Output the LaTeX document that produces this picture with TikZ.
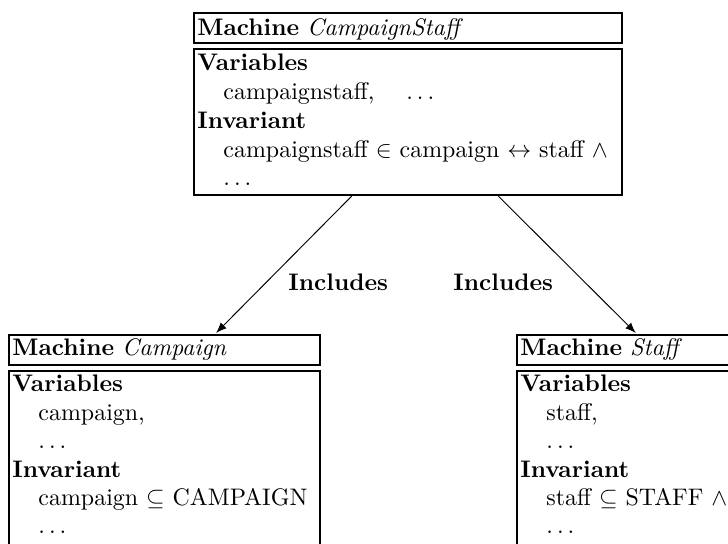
\documentclass[tikz,border=0pt]{standalone}
\usetikzlibrary{calc,fit,arrows.meta}
\begin{document}
\begin{tikzpicture}[x=0.418pt, y=-0.418pt,
  frame/.style={draw, line width=1pt, inner sep=0pt, fit={#1}},
  txt/.style={anchor=base west, inner sep=0pt, font=\normalsize},
  incl/.style={line width=0.4pt, -{Latex[length=4.4pt,width=3.4pt]}, shorten >=0.5pt}]
  \useasboundingbox (0,0) rectangle (728,543);
  \clip (0,0) rectangle (728,543);

  % machine CampaignStaff
  \node[frame={(194,13) (622,43)}] (csHead) {};
  \node[frame={(194,49) (622,195)}] (csBody) {};
  \node[txt] (csTitle) at (197,35) {\textbf{Machine} \textit{CampaignStaff}};
  \node[txt] (csVarH) at (197,70) {\textbf{Variables}};
  \node[txt] (csVar)  at (223,99) {campaignstaff,\quad\ $\ldots$};
  \node[txt] (csInvH) at (197,128) {\textbf{Invariant}};
  \node[txt] (csInv)  at (223,157) {campaignstaff $\in$ campaign $\leftrightarrow$ staff $\wedge$};
  \node[txt] (csEnd)  at (223,185) {$\ldots$};

  % machine Campaign
  \node[frame={(9,335) (320,365)}] (cHead) {};
  \node[frame={(9,371) (320,580)}] (cBody) {};
  \node[txt] (cTitle) at (12,355) {\textbf{Machine} \textit{Campaign}};
  \node[txt] (cVarH)  at (12,391) {\textbf{Variables}};
  \node[txt] (cVar)   at (38,420) {campaign,};
  \node[txt] (cVarE)  at (38,448) {$\ldots$};
  \node[txt] (cInvH)  at (12,477) {\textbf{Invariant}};
  \node[txt] (cInv)   at (38,505) {campaign $\subseteq$ CAMPAIGN};
  \node[txt] (cEnd)   at (38,533) {$\ldots$};

  % machine Staff
  \node[frame={(517,335) (830,365)}] (sHead) {};
  \node[frame={(517,371) (830,580)}] (sBody) {};
  \node[txt] (sTitle) at (520,355) {\textbf{Machine} \textit{Staff}};
  \node[txt] (sVarH)  at (520,391) {\textbf{Variables}};
  \node[txt] (sVar)   at (546,420) {staff,};
  \node[txt] (sVarE)  at (546,448) {$\ldots$};
  \node[txt] (sInvH)  at (520,477) {\textbf{Invariant}};
  \node[txt] (sInv)   at (546,505) {staff $\subseteq$ STAFF $\wedge$};
  \node[txt] (sEnd)   at (546,533) {$\ldots$};

  % includes links
  \draw[incl] ($(csBody.south west)!0.369!(csBody.south east)$)
           -- ($(cHead.north west)!0.662!(cHead.north east)$);
  \draw[incl] ($(csBody.south west)!0.71!(csBody.south east)$)
           -- ($(sHead.north west)!0.383!(sHead.north east)$);
  \node[txt] (inclA) at (288,290) {\textbf{Includes}};
  \node[txt] (inclB) at (453,290) {\textbf{Includes}};
\end{tikzpicture}
\end{document}
